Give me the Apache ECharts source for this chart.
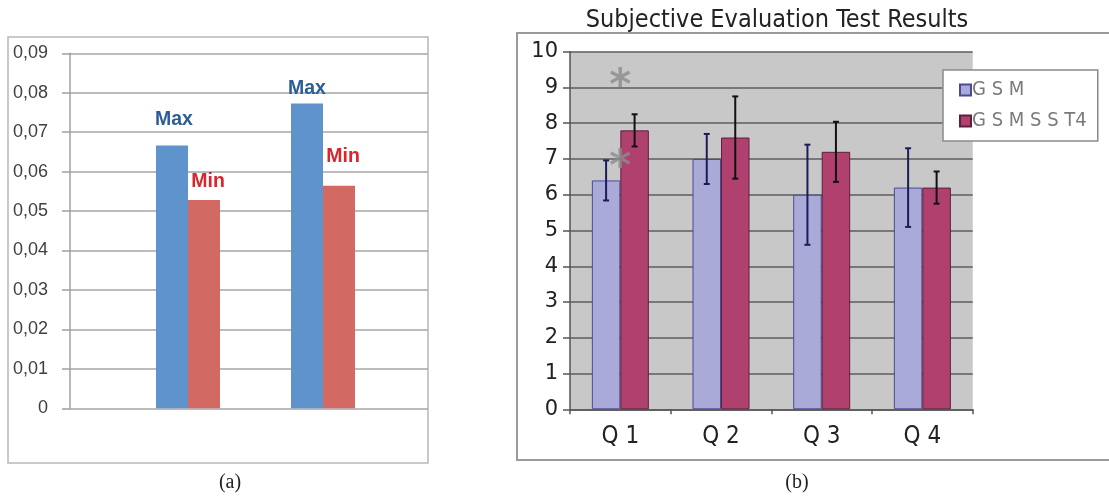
<!DOCTYPE html>
<html>
<head>
<meta charset="utf-8">
<script src="https://cdn.jsdelivr.net/npm/echarts@6/dist/echarts.min.js"></script>
<style>
html,body{margin:0;padding:0;background:#fff;}
#c{width:1109px;height:496px;}
</style>
</head>
<body>
<div id="c"></div>
<script>
// ---------- Panel (a) data ----------
const aCategories = ['1', '2'];
const aMax = [0.0666, 0.0773];
const aMin = [0.0528, 0.0564];
const aTicks = [0, 0.01, 0.02, 0.03, 0.04, 0.05, 0.06, 0.07, 0.08, 0.09];

// ---------- Panel (b) data ----------
const bCategories = ['Q1', 'Q2', 'Q3', 'Q4'];
const gsm = [6.4, 7.0, 6.0, 6.2];
const gsmErr = [0.56, 0.70, 1.40, 1.10];
const gsmsst4 = [7.8, 7.6, 7.2, 6.2];
const gsmsst4Err = [0.45, 1.15, 0.84, 0.45];
const asteriskLevels = [9.2, 6.95];

// ---------- styles (kept separate from data) ----------
const aLabelOffsetsMax = [[2, -11], [0, 0]];
const aLabelOffsetsMin = [[4, -3], [4, -14]];
const bBarPct = 0.283;

const chart = echarts.init(document.getElementById('c'), null, {renderer: 'canvas'});

function errData(vals, errs) {
  return vals.map((v, i) => [i, v - errs[i], v + errs[i]]);
}
function makeErrRender(sign, color) {
  return function (params, api) {
    const ci = api.value(0), lo = api.value(1), hi = api.value(2);
    const band = api.size([1, 0])[0];
    const off = sign * band * bBarPct / 2;
    const pH = api.coord([ci, hi]);
    const pL = api.coord([ci, lo]);
    const x = pH[0] + off;
    const cap = 3;
    const st = {stroke: color, lineWidth: 2};
    return {
      type: 'group',
      children: [
        {type: 'line', shape: {x1: x, y1: pH[1], x2: x, y2: pL[1]}, style: st},
        {type: 'line', shape: {x1: x - cap, y1: pH[1], x2: x + cap, y2: pH[1]}, style: st},
        {type: 'line', shape: {x1: x - cap, y1: pL[1], x2: x + cap, y2: pL[1]}, style: st}
      ]
    };
  };
}

const option = {
  animation: false,
  backgroundColor: '#ffffff',
  legend: {
    data: ['GSM', 'GSMSST4'],
    orient: 'vertical',
    left: 943,
    top: 70,
    backgroundColor: '#ffffff',
    borderColor: '#8a8a8a',
    borderWidth: 1.5,
    padding: [10, 11, 10, 16],
    itemGap: 11,
    itemWidth: 11,
    itemHeight: 11,
    icon: 'rect',
    formatter: n => n.replace(/([A-Z])(?=[A-Z])/g, '$1 '),
    textStyle: {fontFamily: 'DejaVu Sans Condensed', fontSize: 20, color: '#7a7a7a', padding: [0, 0, 0, -4]}
  },
  grid: [
    {left: 70, top: 53.3, width: 358, height: 355},
    {left: 120.5, top: 53.3, width: 270, height: 355},
    {left: 570, top: 51.7, width: 402.7, height: 357.6, show: true, backgroundColor: '#c8c8c8', borderWidth: 0}
  ],
  xAxis: [
    {gridIndex: 0, type: 'category', data: [''], show: false},
    {gridIndex: 1, type: 'category', data: aCategories, show: false},
    {gridIndex: 2, type: 'category', data: bCategories,
      axisLine: {show: true, lineStyle: {color: '#555', width: 1.5}},
      axisTick: {show: true, length: 5, lineStyle: {color: '#555', width: 1.5}},
      axisLabel: {margin: 15, fontFamily: 'DejaVu Sans Condensed', fontSize: 24, color: '#222',
        formatter: v => v.split('').join(' ')}
    }
  ],
  yAxis: [
    {gridIndex: 0, type: 'value', min: 0, max: 0.09, interval: 0.01,
      axisLine: {show: true, lineStyle: {color: '#a0a0a0', width: 1.5}},
      axisTick: {show: true, length: 8, lineStyle: {color: '#a0a0a0', width: 1.5}},
      splitLine: {show: true, lineStyle: {color: '#a6a6a6', width: 1.5}},
      axisLabel: {margin: 22, fontFamily: 'Liberation Sans', fontSize: 18, color: '#404040',
        formatter: v => { const t = aTicks.find(x => Math.abs(x - v) < 1e-9); return t === 0 ? '0' : (t !== undefined ? t.toFixed(2).replace('.', ',') : ''); }}
    },
    {gridIndex: 1, type: 'value', min: 0, max: 0.09, interval: 0.01, show: false, splitLine: {show: false}},
    {gridIndex: 2, type: 'value', min: 0, max: 10, interval: 1,
      axisLine: {show: true, lineStyle: {color: '#555', width: 1.5}},
      axisTick: {show: true, length: 7, lineStyle: {color: '#555', width: 1.5}},
      splitLine: {show: true, lineStyle: {color: '#5e5e5e', width: 1.5}},
      axisLabel: {margin: 12, fontFamily: 'DejaVu Sans', fontSize: 21, color: '#222'}
    }
  ],
  series: [
    {
      name: 'Max', type: 'bar', xAxisIndex: 1, yAxisIndex: 1, barWidth: 32, barGap: '0%',
      itemStyle: {color: '#5e93cb'},
      data: aMax.map((v, i) => ({value: v, label: {offset: aLabelOffsetsMax[i]}})),
      label: {show: true, position: 'top', formatter: '{a}', fontFamily: 'Liberation Sans', fontWeight: 'bold', fontSize: 19.5, color: '#2b5e97'}
    },
    {
      name: 'Min', type: 'bar', xAxisIndex: 1, yAxisIndex: 1, barWidth: 32, barGap: '0%',
      itemStyle: {color: '#d26962'},
      data: aMin.map((v, i) => ({value: v, label: {offset: aLabelOffsetsMin[i]}})),
      label: {show: true, position: 'top', formatter: '{a}', fontFamily: 'Liberation Sans', fontWeight: 'bold', fontSize: 19.5, color: '#d9262e'}
    },
    {
      name: 'GSM', type: 'bar', xAxisIndex: 2, yAxisIndex: 2, barWidth: (bBarPct * 100) + '%', barGap: '0%',
      itemStyle: {color: '#aaaad8', borderColor: '#4a4a98', borderWidth: 1},
      data: gsm
    },
    {
      name: 'GSMSST4', type: 'bar', xAxisIndex: 2, yAxisIndex: 2, barWidth: (bBarPct * 100) + '%', barGap: '0%',
      itemStyle: {color: '#b0416f', borderColor: '#5e1e3c', borderWidth: 1},
      data: gsmsst4
    },
    {
      name: 'GSM err', type: 'custom', xAxisIndex: 2, yAxisIndex: 2, z: 5,
      renderItem: makeErrRender(-1, '#1c1c58'),
      encode: {x: 0, y: [1, 2]},
      data: errData(gsm, gsmErr)
    },
    {
      name: 'GSMSST4 err', type: 'custom', xAxisIndex: 2, yAxisIndex: 2, z: 5,
      renderItem: makeErrRender(1, '#111111'),
      encode: {x: 0, y: [1, 2]},
      data: errData(gsmsst4, gsmsst4Err)
    },
    {
      name: 'sig', type: 'scatter', xAxisIndex: 2, yAxisIndex: 2, z: 6,
      symbol: 'circle', symbolSize: 2, itemStyle: {color: 'rgba(0,0,0,0)'},
      silent: true,
      data: asteriskLevels.map(v => [0, v]),
      label: {show: true, position: 'inside', formatter: '*', fontFamily: 'DejaVu Sans', fontWeight: 'bold', fontSize: 42, color: '#8c8c8c', offset: [0, 8]}
    }
  ],
  graphic: [
    {type: 'rect', shape: {x: 8, y: 37, width: 420, height: 426}, style: {fill: 'none', stroke: '#b8b8b8', lineWidth: 1.5}, z: -1},
    {type: 'rect', shape: {x: 517, y: 33, width: 620, height: 427}, style: {fill: 'none', stroke: '#9a9a9a', lineWidth: 2}, z: -1},
    {type: 'text', x: 777, y: 20, style: {text: 'Subjective Evaluation Test Results', fontFamily: 'DejaVu Sans Condensed', fontSize: 25, fill: '#222', textAlign: 'center', textVerticalAlign: 'middle'}},
    {type: 'text', x: 230, y: 483, style: {text: '(a)', fontFamily: 'Liberation Serif', fontSize: 20, fill: '#222', textAlign: 'center', textVerticalAlign: 'middle'}},
    {type: 'text', x: 797, y: 483, style: {text: '(b)', fontFamily: 'Liberation Serif', fontSize: 20, fill: '#222', textAlign: 'center', textVerticalAlign: 'middle'}}
  ]
};
chart.setOption(option);
</script>
</body>
</html>
